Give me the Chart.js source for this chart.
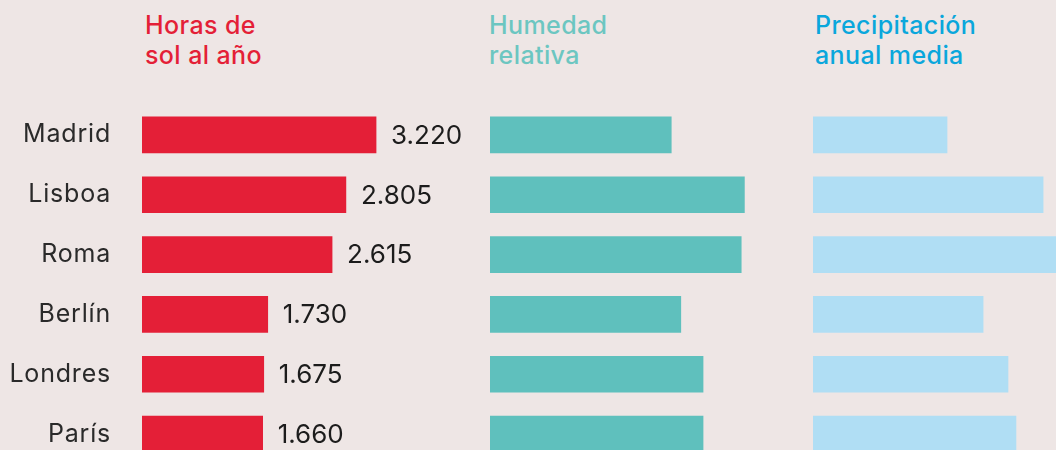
<!DOCTYPE html>
<html lang="es">
<head>
<meta charset="utf-8">
<title>Horas de sol, humedad y precipitación</title>
<script src="https://cdn.jsdelivr.net/npm/chart.js@4"></script>
<style>
  html, body {
    margin: 0;
    padding: 0;
    width: 1056px;
    height: 450px;
    overflow: hidden;
    background: #eee6e5;
    font-family: Inter, "DejaVu Sans", sans-serif;
  }
  .panel {
    position: absolute;
    top: 0;
  }
  .title {
    position: absolute;
    top: 10px;
    font-size: 25px;
    font-weight: 500;
    line-height: 30px;
    letter-spacing: 0.4px;
    white-space: nowrap;
  }
</style>
</head>
<body>
  <div class="title" style="left:145px; color:#e41f37;">Horas de<br>sol al año</div>
  <div class="title" style="left:489px; color:#6cc6c1;">Humedad<br>relativa</div>
  <div class="title" style="left:815px; color:#0aa7dc;">Precipitación<br>anual media</div>

  <canvas id="sun-chart" class="panel" style="left:0px;" width="480" height="470"></canvas>
  <canvas id="humidity-chart" class="panel" style="left:490px;" width="318" height="470"></canvas>
  <canvas id="rain-chart" class="panel" style="left:813px;" width="300" height="470"></canvas>

<script>
// 0. Data.
const cities = ["Madrid", "Lisboa", "Roma", "Berlín", "Londres", "París"];
const sunHours = [3220, 2805, 2615, 1730, 1675, 1660];
const humidity = [57, 80, 79, 60, 67, 67];
const rainfall = [420, 721, 800, 533, 611, 636]; // mm

const FONT = 'Inter, "DejaVu Sans", sans-serif';

// Spanish style thousands separator: 3220 -> "3.220"
function formatHours(value) {
  return String(value).replace(/\B(?=(\d{3})+(?!\d))/g, ".");
}

// City names on the left and the number right of each red bar.
const sunLabels = {
  id: "sunLabels",
  afterDatasetsDraw(chart) {
    const ctx = chart.ctx;
    const meta = chart.getDatasetMeta(0);
    ctx.save();
    ctx.textBaseline = "middle";

    // city names, right aligned before the bars
    ctx.font = `25px ${FONT}`;
    ctx.letterSpacing = "0.8px";
    ctx.fillStyle = "#2a2a2a";
    ctx.textAlign = "right";
    meta.data.forEach((bar, i) => {
      ctx.fillText(chart.data.labels[i], chart.chartArea.left - 31, bar.y);
    });

    // hour totals
    ctx.font = `26px ${FONT}`;
    ctx.letterSpacing = "0px";
    ctx.fillStyle = "#1c1c1c";
    ctx.textAlign = "left";
    meta.data.forEach((bar, i) => {
      ctx.fillText(formatHours(sunHours[i]), bar.x + 15, bar.y + 1);
    });
    ctx.restore();
  },
};

// 1. Shared options for the three horizontal bar charts.
function buildChart(canvasId, values, color, xMax, leftPad, plugins) {
  return new Chart(document.getElementById(canvasId), {
    type: "bar",
    data: {
      labels: cities,
      datasets: [
        {
          data: values,
          backgroundColor: color,
          borderWidth: 0,
          barThickness: 36,
        },
      ],
    },
    plugins,
    options: {
      indexAxis: "y",
      responsive: false,
      animation: false,
      devicePixelRatio: 1,
      layout: { padding: { top: 105, bottom: 6, left: leftPad, right: 0 } },
      plugins: {
        legend: { display: false },
        tooltip: { enabled: false },
      },
      scales: {
        x: { display: false, min: 0, max: xMax },
        y: { display: false },
      },
    },
  });
}

// 2. Build the three panels.
buildChart("sun-chart", sunHours, "#e41f37", 4650, 142, [sunLabels]);
buildChart("humidity-chart", humidity, "#5fc0bd", 100, 0, []);
buildChart("rain-chart", rainfall, "#b0def4", 940, 0, []);
</script>
</body>
</html>
